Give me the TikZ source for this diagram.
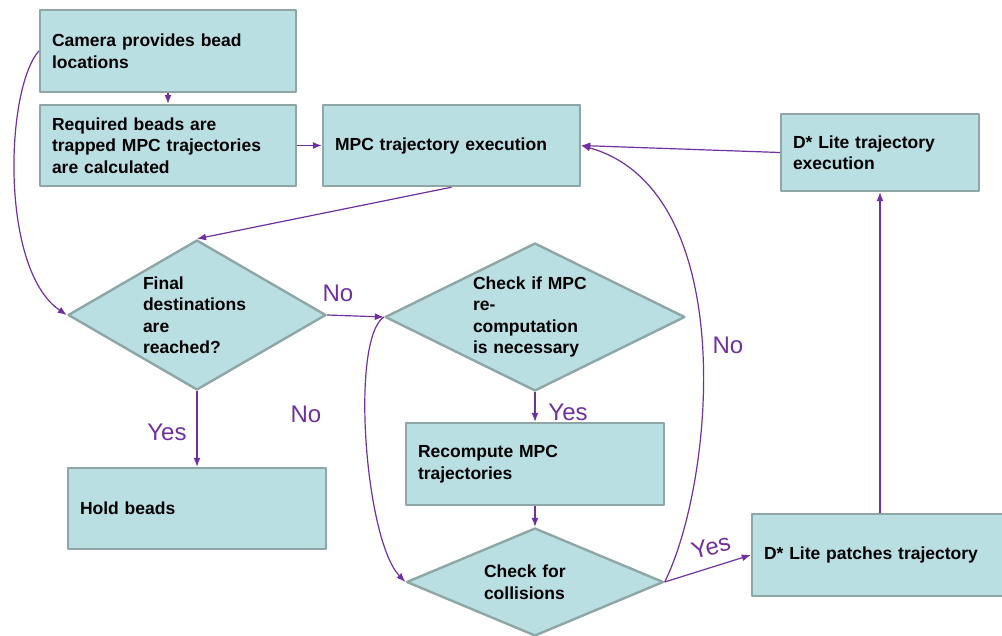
\documentclass[tikz,border=0pt]{standalone}
\usepackage{fontspec}
\setmainfont{Liberation Sans}
\usetikzlibrary{shapes.geometric,arrows.meta}
\definecolor{boxfill}{HTML}{B9DFE2}
\definecolor{boxline}{HTML}{8FA6A7}
\definecolor{flowc}{HTML}{7030A0}
\begin{document}
\begin{tikzpicture}[x=1pt,y=-1pt,>={Latex[length=9pt,width=7pt]}, line join=round,
	box/.style={rectangle,draw=boxline,fill=boxfill,line width=2.4pt,inner xsep=12pt,inner ysep=0pt,align=left,font=\fontsize{17.5}{21.5}\selectfont\bfseries},
	dia/.style={diamond,draw=boxline,fill=boxfill,line width=2.4pt,inner sep=0pt,align=left,font=\fontsize{17.5}{21.5}\selectfont\bfseries},
	conn/.style={draw=flowc,line width=1.2pt,->},
	lbl/.style={text=flowc,inner sep=0pt,font=\fontsize{24}{28}\selectfont}]
	\useasboundingbox (0,0) rectangle (1002,635);
	
	% Kästen
	\node[box,minimum width=256,minimum height=82,text width=232] (cam) at (168,51) {Camera provides bead\\locations};
	\node[box,minimum width=256,minimum height=81,text width=232] (req) at (168,145.5) {Required beads are\\trapped MPC trajectories\\are calculated};
	\node[box,minimum width=257,minimum height=81,text width=233] (mpc) at (451.5,145.5) {MPC trajectory execution};
	\node[box,minimum width=198,minimum height=77,text width=174] (dexec) at (880,152.5) {D* Lite trajectory\\execution};
	\node[box,minimum width=258,minimum height=81,text width=234] (hold) at (197,508.5) {Hold beads};
	\node[box,minimum width=258,minimum height=82,text width=234] (recomp) at (535,464) {Recompute MPC\\trajectories};
	\node[box,minimum width=256,minimum height=82,text width=232] (dpatch) at (880,555) {D* Lite patches trajectory};
	
	% Rauten
	\node[dia,aspect=1.72,minimum width=258,minimum height=150,text width=108] (fin) at (197,315) {Final\\destinations\\are\\reached?};
	\node[dia,aspect=2.03,minimum width=300,minimum height=148,text width=124] (chk) at (535,317) {Check if MPC\\re-\\computation\\is necessary};
	\node[dia,aspect=2.38,minimum width=257,minimum height=108,text width=102] (col) at (535,582) {Check for\\collisions};
	
	% Pfeile
	\draw[conn] (cam) -- (req);
	\draw[conn] (req) -- (mpc);
	\draw[conn] (mpc.south) -- (fin.north);
	\draw[conn] (cam.west) .. controls (5,90) and (0,270) .. (fin.west);
	\draw[conn] (fin.east) -- (chk.west);
	\draw[conn] (fin) -- (hold);
	\draw[conn] (chk) -- (recomp);
	\draw[conn] (recomp) -- (col);
	\draw[conn] (chk.west) .. controls (350,340) and (365,540) .. (col.west);
	\draw[conn] (col.east) -- (dpatch.west);
	\draw[conn] (col.east) .. controls (715,480) and (740,190) .. (mpc.east);
	\draw[conn] (dpatch) -- (dexec);
	\draw[conn] (dexec.west) -- (mpc.east);
	
	% Beschriftungen
	\node[lbl] (no1) at (338,293) {No};
	\node[lbl] (yes1) at (167,432) {Yes};
	\node[lbl] (yes2) at (568,412) {Yes};
	\node[lbl] (no2) at (306,414) {No};
	\node[lbl] (no3) at (728,345) {No};
	\node[lbl,rotate=15] (yes3) at (711,547) {Yes};
\end{tikzpicture}
\end{document}
